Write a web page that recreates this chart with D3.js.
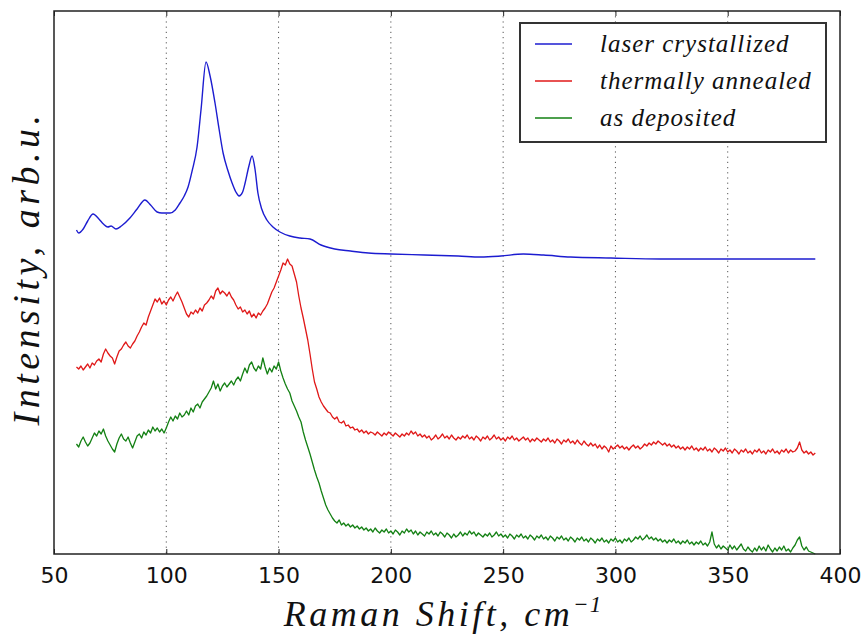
<!DOCTYPE html>
<html>
<head>
<meta charset="utf-8">
<script src="https://cdn.jsdelivr.net/npm/d3@7"></script>
<style>
  html, body { margin: 0; padding: 0; background: #fff; }
  svg { display: block; }
</style>
</head>
<body>
<svg id="chart" width="866" height="637"></svg>
<script>
// ---------------- DATA ----------------
const xTicks = [50, 100, 150, 200, 250, 300, 350, 400];
const seriesNames = ["laser crystallized", "thermally annealed", "as deposited"];
const seriesColors = ["#1c1cd0", "#e01818", "#138013"];

// laser crystallized (smooth spectrum), Raman shift (cm^-1) and intensity (arb. u.)
const laserShift = [60, 61, 63, 65, 67.4, 70, 72, 74, 75.4, 77.6, 80, 83.8, 87, 90.5, 93, 95.9, 98, 101.7, 104, 106.1,
  108, 109.7, 111.5, 113.7, 115.5, 117.7, 119.5, 121.7, 123.5, 125.3, 127.5, 129.3, 131, 132.4, 134, 135.1, 136.8,
  138.2, 139.5, 140.8, 142.5, 144.8, 147.5, 150.6, 155, 159.5, 164, 168.9, 175, 182, 190, 200, 215, 230, 240, 249,
  259, 268, 280, 298, 320, 350, 389];
const laserIntensity = [324, 321, 325, 333, 340, 335, 330, 327, 328, 325, 328, 336, 345, 354, 349, 342, 341, 341, 344, 351,
  358, 367, 383, 407, 445, 492, 478, 451, 425, 401, 383, 371, 362, 358, 362, 371, 388,
  398, 385, 361, 345, 334, 327, 322, 318, 316, 315, 309, 305, 303, 301, 300, 299, 298, 297, 298,
  300, 299, 297, 296, 295, 295, 295];

// noisy spectra sampled every 1 cm^-1 from 60 to 389
const noisyStart = 60;
const annealedIntensity = [
  187,185,188,184,187,190,186,191,189,193, 195,192,200,205,201,198,196,190,197,203,
  205,209,212,208,206,210,213,218,222,227, 231,229,237,243,249,255,252,256,250,253,
  249,254,257,253,258,262,257,252,246,240, 237,242,240,244,241,246,243,249,251,254,
  258,255,263,266,260,263,261,258,262,257, 254,249,245,247,242,244,240,243,237,240,
  236,241,239,243,246,250,256,262,266,272, 278,284,291,289,295,290,288,280,272,258,
  246,236,225,214,200,185,172,165,157,152, 148,145,142,141,137,135,137,132,131,133,
  128,129,126,127,124,125,122,124,121,123, 120,122,121,119,122,120,118,121,119,122,
  120,118,121,119,117,120,118,121,119,123, 120,122,118,120,117,119,116,118,114,116,
  119,115,117,120,116,118,115,119,116,114, 117,115,118,116,119,115,117,114,118,116,
  113,117,115,118,114,116,119,115,117,114, 116,113,117,115,118,114,116,113,115,117,
  114,116,112,115,113,116,114,112,115,113, 116,112,114,111,115,113,110,114,112,115,
  111,113,110,114,111,109,113,110,108,111, 108,110,106,109,105,108,106,102,108,105,
  107,109,106,108,105,107,104,107,109,106, 108,105,107,110,108,111,109,112,110,113,
  111,109,111,108,110,107,109,106,108,105, 107,104,107,105,108,104,106,103,106,104,
  107,103,105,102,106,104,101,105,103,106, 102,104,101,105,103,100,104,102,105,101,
  103,100,104,102,105,101,103,100,104,102, 105,101,103,100,104,102,105,101,104,102,
  103,106,112,104,101,103,100,102,99,101
];
const depositedIntensity = [
  110,107,113,117,112,108,111,116,121,118, 123,120,125,118,113,109,105,102,110,116,
  120,115,113,117,111,106,112,118,120,116, 122,119,124,121,127,123,126,122,125,121,
  126,132,137,133,138,135,141,137,139,143, 139,146,142,148,150,146,152,155,158,162,
  166,173,165,170,163,168,171,167,170,173, 169,174,177,173,180,186,181,189,192,186,
  183,188,185,196,187,180,186,182,188,185, 192,183,176,170,165,161,153,148,143,137,
  132,122,114,107,100,92,84,77,71,63, 56,49,44,40,36,33,31,34,29,31,
  28,30,27,29,26,28,25,27,24,26, 23,25,22,26,23,21,24,22,25,21,
  23,20,24,22,19,23,21,25,22,24, 20,23,19,22,20,18,22,20,23,19,
  21,18,22,20,17,21,19,16,20,17, 19,22,18,21,19,23,20,22,18,21,
  19,17,20,18,21,17,19,22,18,20, 17,19,16,20,18,15,19,17,20,16,
  18,15,19,17,14,18,16,19,15,17, 14,18,16,13,17,15,18,14,16,13,
  17,15,12,16,14,17,13,15,12,16, 14,11,15,13,16,12,14,11,15,13,
  16,12,14,11,15,13,16,12,14,17, 15,18,14,16,19,15,17,14,16,13,
  15,12,14,11,14,12,15,11,13,10, 13,11,14,10,12,9,12,10,13,9,
  11,8,12,22,10,6,9,5,8,6, 4,9,5,8,4,7,10,5,3,7,
  4,2,6,3,8,4,7,3,9,5, 2,6,3,7,4,8,3,5,2,6,
  9,14,17,8,4,7,3,2,1,0
];

// ---------------- CHART ----------------
const svg = d3.select("#chart");
const plotLeft = 54, plotRight = 840, plotTop = 11, plotBottom = 554;

const x = d3.scaleLinear().domain([50, 400]).range([plotLeft, plotRight]);
const y = d3.scaleLinear().domain([0, 543]).range([plotBottom, plotTop]);

// dotted vertical grid
svg.append("g")
  .selectAll("line")
  .data(xTicks.slice(1, -1))
  .join("line")
  .attr("x1", d => x(d)).attr("x2", d => x(d))
  .attr("y1", plotTop).attr("y2", plotBottom)
  .attr("stroke", "#555")
  .attr("stroke-width", 1)
  .attr("stroke-dasharray", "1.2,4");

// series
const toPoints = (xs, ys) => ys.map((v, i) => [xs[i], v]);
const noisyShift = annealedIntensity.map((_, i) => noisyStart + i);

const smoothLine = d3.line().x(d => x(d[0])).y(d => y(d[1])).curve(d3.curveMonotoneX);
const rawLine = d3.line().x(d => x(d[0])).y(d => y(d[1]));

svg.append("path")
  .attr("d", smoothLine(toPoints(laserShift, laserIntensity)))
  .attr("fill", "none").attr("stroke", seriesColors[0]).attr("stroke-width", 1.4);
svg.append("path")
  .attr("d", rawLine(toPoints(noisyShift, annealedIntensity)))
  .attr("fill", "none").attr("stroke", seriesColors[1]).attr("stroke-width", 1.3).attr("stroke-linejoin", "round");
svg.append("path")
  .attr("d", rawLine(toPoints(noisyShift, depositedIntensity)))
  .attr("fill", "none").attr("stroke", seriesColors[2]).attr("stroke-width", 1.3).attr("stroke-linejoin", "round");

// axes
const xAxis = d3.axisBottom(x).tickValues(xTicks).tickFormat(d3.format("d"))
  .tickSizeInner(-5).tickSizeOuter(0).tickPadding(13);
const gx = svg.append("g").attr("transform", `translate(0,${plotBottom})`).call(xAxis);
gx.select(".domain").remove();
gx.selectAll(".tick line").attr("stroke", "#222").attr("stroke-width", 1);
gx.selectAll(".tick text")
  .attr("font-family", "'DejaVu Sans', sans-serif")
  .attr("font-size", 22)
  .attr("fill", "#111");

const xAxisTop = d3.axisTop(x).tickValues(xTicks).tickFormat("").tickSizeInner(-5).tickSizeOuter(0);
const gxt = svg.append("g").attr("transform", `translate(0,${plotTop})`).call(xAxisTop);
gxt.select(".domain").remove();
gxt.selectAll(".tick line").attr("stroke", "#222").attr("stroke-width", 1);

// frame
svg.append("rect")
  .attr("x", plotLeft).attr("y", plotTop)
  .attr("width", plotRight - plotLeft).attr("height", plotBottom - plotTop)
  .attr("fill", "none").attr("stroke", "#222").attr("stroke-width", 1.5);

// axis labels
const xl = svg.append("text")
  .attr("x", 443).attr("y", 626)
  .attr("text-anchor", "middle")
  .attr("font-family", "'Liberation Serif', serif")
  .attr("font-style", "italic")
  .attr("font-size", 36)
  .attr("letter-spacing", 3.5)
  .attr("fill", "#111");
xl.append("tspan").text("Raman Shift, cm");
xl.append("tspan").attr("dy", -14).attr("font-size", 23).attr("letter-spacing", 1).text("\u22121");

svg.append("text")
  .attr("transform", "translate(39,268) rotate(-90)")
  .attr("text-anchor", "middle")
  .attr("font-family", "'Liberation Serif', serif")
  .attr("font-style", "italic")
  .attr("font-size", 38)
  .attr("letter-spacing", 4.5)
  .attr("fill", "#111")
  .text("Intensity, arb.u.");

// legend
const lg = svg.append("g");
lg.append("rect")
  .attr("x", 520).attr("y", 23).attr("width", 306).attr("height", 119)
  .attr("fill", "#fff").attr("stroke", "#333").attr("stroke-width", 2);
const rowsY = [44, 81, 118];
seriesNames.forEach((name, i) => {
  lg.append("line")
    .attr("x1", 535).attr("x2", 572)
    .attr("y1", rowsY[i]).attr("y2", rowsY[i])
    .attr("stroke", seriesColors[i]).attr("stroke-width", 1.5);
  lg.append("text")
    .attr("x", 600).attr("y", rowsY[i]).attr("dy", "0.3em")
    .attr("font-family", "'Liberation Serif', serif")
    .attr("font-style", "italic")
    .attr("font-size", 25)
    .attr("letter-spacing", 1)
    .attr("fill", "#111")
    .text(name);
});
</script>
</body>
</html>
